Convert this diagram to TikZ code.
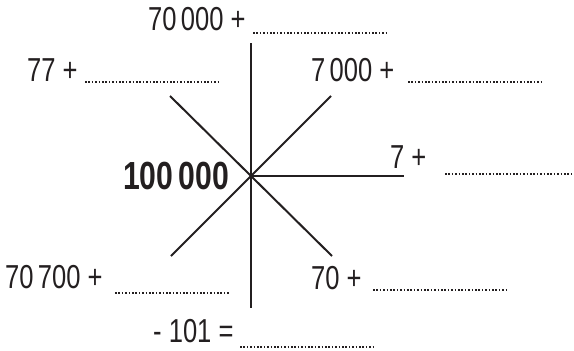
\documentclass[tikz,border=0pt]{standalone}
\usepackage{fontspec}
\setmainfont[FakeStretch=0.77]{Liberation Sans}
\usetikzlibrary{positioning}
\definecolor{ink}{HTML}{231F20}
\newcommand{\grp}{\kern0.13em}

\begin{document}
\begin{tikzpicture}[x=1pt,y=-1pt,font=\fontsize{33.2}{38}\selectfont,
  spoke/.style={ink,line width=2pt},
  blank/.style={ink,line width=1.5pt,dash pattern=on 1.5pt off 1.9pt},
  lab/.style={anchor=base west,inner sep=0pt,text=ink}]
\useasboundingbox (0,0) rectangle (574,351);
% spokes round the centre
\coordinate (c) at (251,176);
\coordinate (n) at (251,43);
\coordinate (s) at (251,308);
\coordinate (e) at (404,176);
\coordinate (nw) at (170,96);
\coordinate (ne) at (331,96);
\coordinate (sw) at (171,256);
\coordinate (se) at (332,256);
\foreach \p in {n,s,e,nw,ne,sw,se} {\draw[spoke] (c) -- (\p);}
\node[lab,font=\fontsize{39.2}{44}\selectfont\bfseries] (hub) at (123,189) {100\grp000};
% sums
\node[lab] (tn) at (148,30) {70\grp000 +};
\node[lab] (tnw) at (27,81) {77 +};
\node[lab] (tne) at (311,81) {7\grp000 +};
\node[lab] (te) at (390,168) {7 +};
\node[lab] (tsw) at (5,288) {70\grp700 +};
\node[lab] (tse) at (311,289) {70 +};
\node[lab] (ts) at (153,342) {- 101 =};
% answer lines
\foreach \b/\x/\y/\w in {bn/253/33/134, bnw/85/82/133, bne/408/82/134, be/445/174/128,
  bsw/115/293/114, bse/373/290/134, bs/240/347/134} {
  \coordinate (\b) at (\x,\y);
  \coordinate (\b') at (\x+\w,\y);
  \draw[blank] (\b) -- (\b');
}
\end{tikzpicture}
\end{document}
